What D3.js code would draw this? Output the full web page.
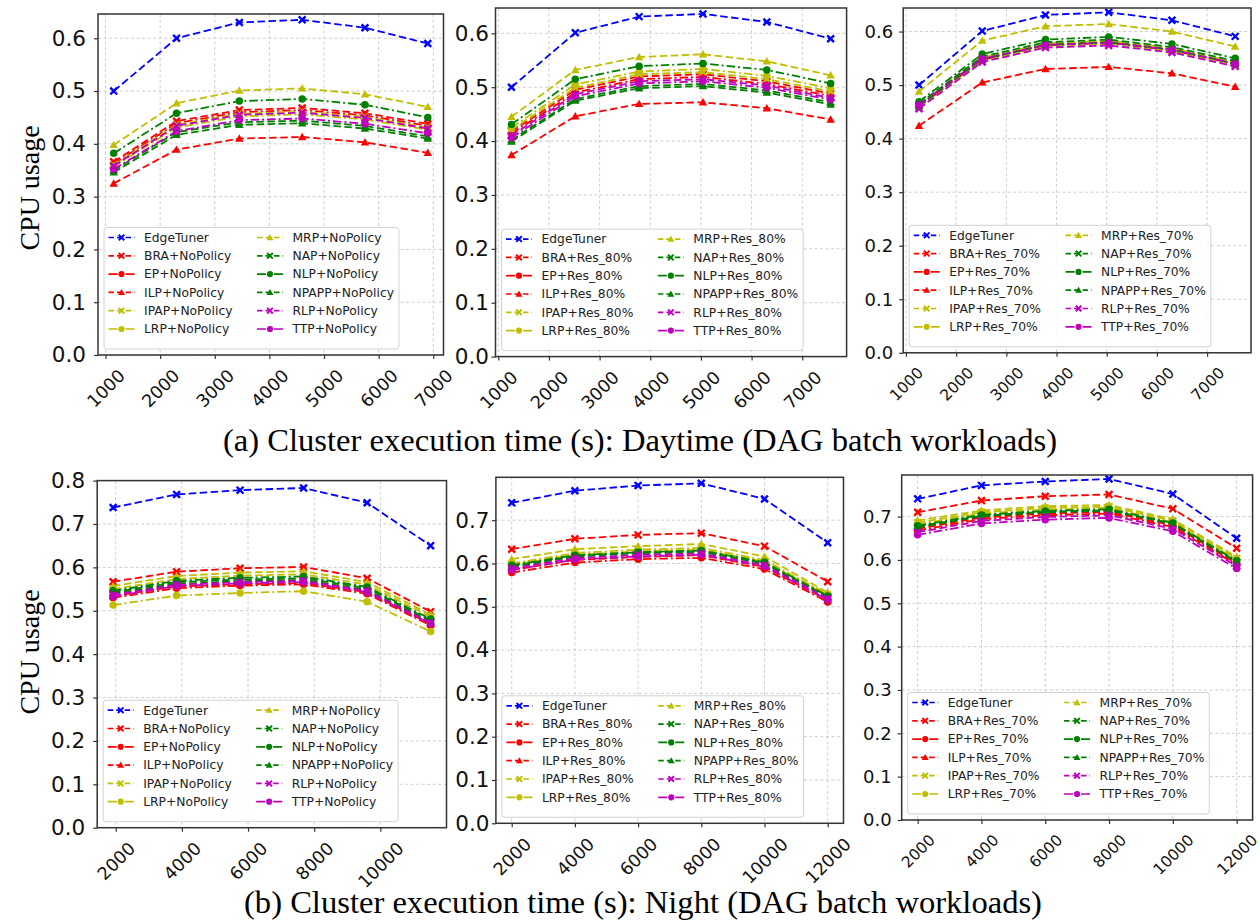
<!DOCTYPE html>
<html>
<head>
<meta charset="utf-8">
<script src="https://cdn.jsdelivr.net/npm/d3@7"></script>
<style>
  body { margin: 0; background: #fff; }
  svg { display: block; }
</style>
</head>
<body>
<svg id="fig" width="1260" height="922"></svg>
<script>
// ---- series definitions ----
const seriesNames   = ["EdgeTuner", "BRA", "EP", "ILP", "IPAP", "LRP", "MRP", "NAP", "NLP", "NPAPP", "RLP", "TTP"];
const seriesColors  = ["#0000ff", "#ff0000", "#ff0000", "#ff0000", "#bfbf00", "#bfbf00", "#bfbf00", "#008000", "#008000", "#008000", "#bf00bf", "#bf00bf"];
const seriesMarkers = ["x", "x", "o", "^", "x", "o", "^", "x", "o", "^", "x", "o"];
const seriesDashes  = ["--", "--", "-.", "--", "--", "-.", "--", "--", "-.", "--", "--", "-."];

// ---- x values (cluster execution time, s) ----
const xDayNoPolicy   = [1150, 2300, 3450, 4600, 5750, 6900];
const xDayRes        = [1260, 2520, 3780, 5040, 6300, 7560];
const xNightNoPolicy = [1920, 3840, 5760, 7680, 9600, 11520];
const xNightRes      = [2000, 4000, 6000, 8000, 10000, 12000];

// ---- tick labels ----
const xTicksDay      = [1000, 2000, 3000, 4000, 5000, 6000, 7000];
const xTicksNight1   = [2000, 4000, 6000, 8000, 10000];
const xTicksNight    = [2000, 4000, 6000, 8000, 10000, 12000];
const yTicksDay      = [0, 0.1, 0.2, 0.3, 0.4, 0.5, 0.6];
const yTicksNight1   = [0, 0.1, 0.2, 0.3, 0.4, 0.5, 0.6, 0.7, 0.8];
const yTicksNight    = [0, 0.1, 0.2, 0.3, 0.4, 0.5, 0.6, 0.7];

// ---- CPU usage, one row per series (same order as seriesNames) ----
const dayNoPolicy = [
  [0.500, 0.600, 0.630, 0.635, 0.620, 0.590],
  [0.366, 0.443, 0.464, 0.468, 0.458, 0.438],
  [0.362, 0.439, 0.460, 0.464, 0.454, 0.434],
  [0.325, 0.389, 0.410, 0.413, 0.403, 0.383],
  [0.360, 0.436, 0.457, 0.461, 0.451, 0.431],
  [0.357, 0.431, 0.452, 0.456, 0.446, 0.427],
  [0.398, 0.477, 0.501, 0.505, 0.494, 0.470],
  [0.350, 0.422, 0.441, 0.444, 0.434, 0.414],
  [0.382, 0.458, 0.481, 0.485, 0.474, 0.450],
  [0.346, 0.417, 0.436, 0.439, 0.429, 0.410],
  [0.358, 0.434, 0.455, 0.459, 0.449, 0.429],
  [0.352, 0.424, 0.445, 0.448, 0.438, 0.420]
];
const dayRes80 = [
  [0.500, 0.601, 0.631, 0.636, 0.621, 0.590],
  [0.418, 0.495, 0.520, 0.524, 0.511, 0.488],
  [0.414, 0.490, 0.515, 0.519, 0.506, 0.484],
  [0.374, 0.446, 0.469, 0.472, 0.461, 0.440],
  [0.421, 0.499, 0.524, 0.528, 0.515, 0.492],
  [0.425, 0.505, 0.529, 0.534, 0.521, 0.498],
  [0.445, 0.532, 0.556, 0.561, 0.548, 0.522],
  [0.402, 0.478, 0.502, 0.506, 0.494, 0.472],
  [0.431, 0.515, 0.539, 0.544, 0.532, 0.507],
  [0.399, 0.475, 0.498, 0.502, 0.490, 0.468],
  [0.410, 0.487, 0.511, 0.515, 0.503, 0.480],
  [0.406, 0.483, 0.507, 0.511, 0.499, 0.477]
];
const dayRes70 = [
  [0.500, 0.601, 0.631, 0.636, 0.621, 0.591],
  [0.462, 0.549, 0.576, 0.581, 0.567, 0.541],
  [0.460, 0.547, 0.574, 0.579, 0.565, 0.539],
  [0.424, 0.505, 0.530, 0.534, 0.522, 0.497],
  [0.458, 0.545, 0.572, 0.577, 0.563, 0.537],
  [0.463, 0.551, 0.578, 0.583, 0.569, 0.543],
  [0.488, 0.583, 0.610, 0.614, 0.600, 0.572],
  [0.461, 0.548, 0.575, 0.580, 0.566, 0.540],
  [0.469, 0.558, 0.585, 0.590, 0.577, 0.550],
  [0.465, 0.553, 0.580, 0.585, 0.571, 0.545],
  [0.456, 0.543, 0.570, 0.574, 0.561, 0.535],
  [0.463, 0.549, 0.575, 0.579, 0.566, 0.540]
];
const nightNoPolicy = [
  [0.738, 0.768, 0.778, 0.783, 0.749, 0.650],
  [0.567, 0.590, 0.598, 0.601, 0.575, 0.498],
  [0.530, 0.552, 0.558, 0.561, 0.539, 0.466],
  [0.534, 0.556, 0.561, 0.564, 0.543, 0.469],
  [0.550, 0.573, 0.581, 0.584, 0.560, 0.486],
  [0.513, 0.535, 0.541, 0.545, 0.521, 0.452],
  [0.557, 0.580, 0.588, 0.591, 0.566, 0.491],
  [0.540, 0.562, 0.568, 0.571, 0.548, 0.475],
  [0.546, 0.569, 0.576, 0.579, 0.555, 0.481],
  [0.543, 0.566, 0.572, 0.575, 0.552, 0.478],
  [0.537, 0.560, 0.566, 0.569, 0.546, 0.472],
  [0.533, 0.557, 0.563, 0.566, 0.543, 0.470]
];
const nightRes80 = [
  [0.740, 0.768, 0.780, 0.785, 0.749, 0.648],
  [0.633, 0.657, 0.666, 0.670, 0.640, 0.558],
  [0.579, 0.602, 0.610, 0.613, 0.587, 0.511],
  [0.585, 0.608, 0.615, 0.619, 0.592, 0.515],
  [0.597, 0.620, 0.628, 0.632, 0.604, 0.526],
  [0.600, 0.624, 0.632, 0.636, 0.608, 0.529],
  [0.610, 0.633, 0.640, 0.645, 0.616, 0.533],
  [0.592, 0.616, 0.624, 0.627, 0.600, 0.522],
  [0.596, 0.619, 0.626, 0.630, 0.603, 0.525],
  [0.594, 0.617, 0.625, 0.628, 0.601, 0.523],
  [0.589, 0.612, 0.620, 0.623, 0.596, 0.519],
  [0.585, 0.609, 0.616, 0.620, 0.593, 0.516]
];
const nightRes70 = [
  [0.741, 0.772, 0.781, 0.787, 0.752, 0.650],
  [0.710, 0.737, 0.747, 0.751, 0.718, 0.627],
  [0.668, 0.694, 0.703, 0.707, 0.676, 0.589],
  [0.672, 0.698, 0.707, 0.711, 0.680, 0.592],
  [0.686, 0.710, 0.720, 0.723, 0.690, 0.603],
  [0.682, 0.707, 0.716, 0.720, 0.687, 0.600],
  [0.691, 0.714, 0.724, 0.727, 0.694, 0.607],
  [0.675, 0.701, 0.710, 0.714, 0.683, 0.595],
  [0.679, 0.704, 0.713, 0.717, 0.685, 0.598],
  [0.677, 0.702, 0.711, 0.715, 0.684, 0.596],
  [0.664, 0.690, 0.699, 0.703, 0.672, 0.586],
  [0.658, 0.684, 0.693, 0.697, 0.666, 0.580]
];

// ---- subplot layout: [left, top, right, bottom] in px, axis limits, tick text sizes ----
const panels = [
  { values: dayNoPolicy,   xs: xDayNoPolicy,   xTicks: xTicksDay,    yTicks: yTicksDay,    suffix: "+NoPolicy", box: [98, 14, 443.5, 355],        xDomain: [862.5, 7187.5], yMax: 0.646, yFont: 21.5, xFont: 17.5, yPad: 8 },
  { values: dayRes80,      xs: xDayRes,        xTicks: xTicksDay,    yTicks: yTicksDay,    suffix: "+Res_80%",  box: [495.5, 8, 846.6, 356.6],     xDomain: [945, 7875],     yMax: 0.647, yFont: 21.5, xFont: 17.5, yPad: 2.5 },
  { values: dayRes70,      xs: xDayRes,        xTicks: xTicksDay,    yTicks: yTicksDay,    suffix: "+Res_70%",  box: [903.2, 8, 1251, 352.8],      xDomain: [945, 7875],     yMax: 0.644, yFont: 18, xFont: 15.5, yPad: 6 },
  { values: nightNoPolicy, xs: xNightNoPolicy, xTicks: xTicksNight1, yTicks: yTicksNight1, suffix: "+NoPolicy", box: [97.2, 480.6, 446.5, 827.7],  xDomain: [1440, 12000],   yMax: 0.800, yFont: 21.5, xFont: 17.5, yPad: 8 },
  { values: nightRes80,    xs: xNightRes,      xTicks: xTicksNight,  yTicks: yTicksNight,  suffix: "+Res_80%",  box: [495.9, 477.3, 843.5, 823.3], xDomain: [1500, 12500],   yMax: 0.799, yFont: 21.5, xFont: 17.5, yPad: 2.5 },
  { values: nightRes70,    xs: xNightRes,      xTicks: xTicksNight,  yTicks: yTicksNight,  suffix: "+Res_70%",  box: [901.7, 475, 1252.6, 820],    xDomain: [1500, 12500],   yMax: 0.796, yFont: 18, xFont: 15.5, yPad: 6 }
];

const svg = d3.select("#fig");
const tickFont = "DejaVu Sans, sans-serif";
const legendFontSize = 12.3;
const spineColor = "#333";

const dashArray = { "--": "7.5,3.5", "-.": "8.5,3,2,3" };

function drawMarker(g, type, cx, cy, color, s) {
  if (type === "x") {
    g.append("path")
      .attr("d", `M${cx - s},${cy - s}L${cx + s},${cy + s}M${cx - s},${cy + s}L${cx + s},${cy - s}`)
      .attr("stroke", color).attr("stroke-width", s * 0.7).attr("fill", "none");
  } else if (type === "o") {
    g.append("circle").attr("cx", cx).attr("cy", cy).attr("r", s * 1.1).attr("fill", color);
  } else {
    const h = s * 1.25;
    g.append("path")
      .attr("d", `M${cx},${cy - h}L${cx + h},${cy + h * 0.75}L${cx - h},${cy + h * 0.75}Z`)
      .attr("fill", color);
  }
}

panels.forEach((p, pi) => {
  const [L, T, R, B] = p.box;
  const x = d3.scaleLinear().domain(p.xDomain).range([L, R]);
  const y = d3.scaleLinear().domain([0, p.yMax]).range([B, T]);
  const g = svg.append("g");

  // grid
  const grid = g.append("g").attr("class", "grid");
  grid.selectAll("line.gx").data(p.xTicks).join("line")
    .attr("x1", d => x(d)).attr("x2", d => x(d)).attr("y1", T).attr("y2", B)
    .attr("stroke", "#c8c8c8").attr("stroke-width", 0.9).attr("stroke-dasharray", "3,2.5");
  grid.selectAll("line.gy").data(p.yTicks).join("line")
    .attr("x1", L).attr("x2", R).attr("y1", d => y(d)).attr("y2", d => y(d))
    .attr("stroke", "#c8c8c8").attr("stroke-width", 0.9).attr("stroke-dasharray", "3,2.5");

  // series: line and markers per series, in plotting order
  const clip = "plotclip" + pi;
  svg.append("clipPath").attr("id", clip).append("rect")
    .attr("x", L).attr("y", T).attr("width", R - L).attr("height", B - T);
  const plot = g.append("g").attr("clip-path", `url(#${clip})`);
  const line = d3.line().x(d => x(d[0])).y(d => y(d[1]));
  p.values.forEach((vals, i) => {
    const pts = vals.map((v, k) => [p.xs[k], v]);
    const sg = plot.append("g");
    sg.append("path").attr("d", line(pts)).attr("fill", "none")
      .attr("stroke", seriesColors[i]).attr("stroke-width", 1.8)
      .attr("stroke-dasharray", dashArray[seriesDashes[i]]);
    pts.forEach(pt => drawMarker(sg, seriesMarkers[i], x(pt[0]), y(pt[1]), seriesColors[i], 3.4));
  });

  // axes
  const xAxis = d3.axisBottom(x).tickValues(p.xTicks).tickSize(4).tickPadding(3).tickFormat(d3.format("d"));
  const yAxis = d3.axisLeft(y).tickValues(p.yTicks).tickSize(4).tickPadding(p.yPad).tickFormat(d3.format(".1f"));
  const gx = g.append("g").attr("transform", `translate(0,${B})`).call(xAxis);
  const gy = g.append("g").attr("transform", `translate(${L},0)`).call(yAxis);
  [gx, gy].forEach(a => {
    a.select(".domain").remove();
    a.selectAll(".tick line").attr("stroke", spineColor).attr("stroke-width", 1.2);
  });
  gy.selectAll("text").attr("font-family", tickFont).attr("font-size", p.yFont).attr("fill", "#111");
  gx.selectAll("text").attr("font-family", tickFont).attr("font-size", p.xFont).attr("fill", "#111")
    .attr("text-anchor", "middle").attr("y", 0).attr("dy", "0.35em")
    .each(function () {
      const w = this.getComputedTextLength();
      const half = (w + p.xFont * 0.75) * 0.7071 / 2;
      d3.select(this).attr("transform", `translate(0,${13 + half}) rotate(-45)`);
    });

  // legend (two columns, lower left)
  const lg = g.append("g");
  const labels = seriesNames.map((n, i) => i === 0 ? n : n + p.suffix);
  const rowH = 18.3;
  const box = lg.append("rect").attr("rx", 3)
    .attr("fill", "#fff").attr("fill-opacity", 0.85)
    .attr("stroke", "#d2d2d2").attr("stroke-width", 1);
  const items = lg.append("g");
  const textNodes = labels.map(lab => items.append("text").text(lab)
    .attr("font-family", tickFont).attr("font-size", legendFontSize).attr("fill", "#222")
    .attr("dy", "0.35em"));
  const widths = textNodes.map(t => t.node().getComputedTextLength());
  const col1W = d3.max(widths.slice(0, 6));
  const col2W = d3.max(widths.slice(6));
  const mx1 = 17.5, tx1 = 40;
  const mx2 = tx1 + col1W + 37.5, tx2 = mx2 + 22.5;
  const boxW = tx2 + col2W + 5;
  const boxH = 20 + rowH * 5 + 10;
  const bx = L + 6, by = B - 6 - boxH;
  box.attr("x", bx).attr("y", by).attr("width", boxW).attr("height", boxH);
  labels.forEach((lab, i) => {
    const col = i < 6 ? 0 : 1;
    const row = i % 6;
    const cy = by + 10 + row * rowH;
    const mx = bx + (col ? mx2 : mx1);
    textNodes[i].attr("x", bx + (col ? tx2 : tx1)).attr("y", cy);
    const hg = items.append("g");
    hg.append("line").attr("x1", mx - 13).attr("x2", mx + 13).attr("y1", cy).attr("y2", cy)
      .attr("stroke", seriesColors[i]).attr("stroke-width", 1.7)
      .attr("stroke-dasharray", seriesDashes[i] === "--" ? "5.5,3" : "9,3,2,3");
    drawMarker(hg, seriesMarkers[i], mx, cy, seriesColors[i], 2.8);
  });

  // frame drawn last so it sits above the data
  g.append("rect").attr("x", L).attr("y", T).attr("width", R - L).attr("height", B - T)
    .attr("fill", "none").attr("stroke", spineColor).attr("stroke-width", 1.5);
});

// y-axis titles and captions
const serif = "Liberation Serif, Times New Roman, serif";
[188, 652].forEach(cy => {
  svg.append("text").text("CPU usage")
    .attr("transform", `translate(39,${cy}) rotate(-90)`)
    .attr("text-anchor", "middle").attr("font-family", serif).attr("font-size", 28).attr("fill", "#000");
});
svg.append("text").text("(a) Cluster execution time (s): Daytime (DAG batch workloads)")
  .attr("x", 640).attr("y", 451).attr("text-anchor", "middle")
  .attr("font-family", serif).attr("font-size", 32.6).attr("fill", "#000");
svg.append("text").text("(b) Cluster execution time (s): Night (DAG batch workloads)")
  .attr("x", 643).attr("y", 913).attr("text-anchor", "middle")
  .attr("font-family", serif).attr("font-size", 32.6).attr("fill", "#000");
</script>
</body>
</html>
